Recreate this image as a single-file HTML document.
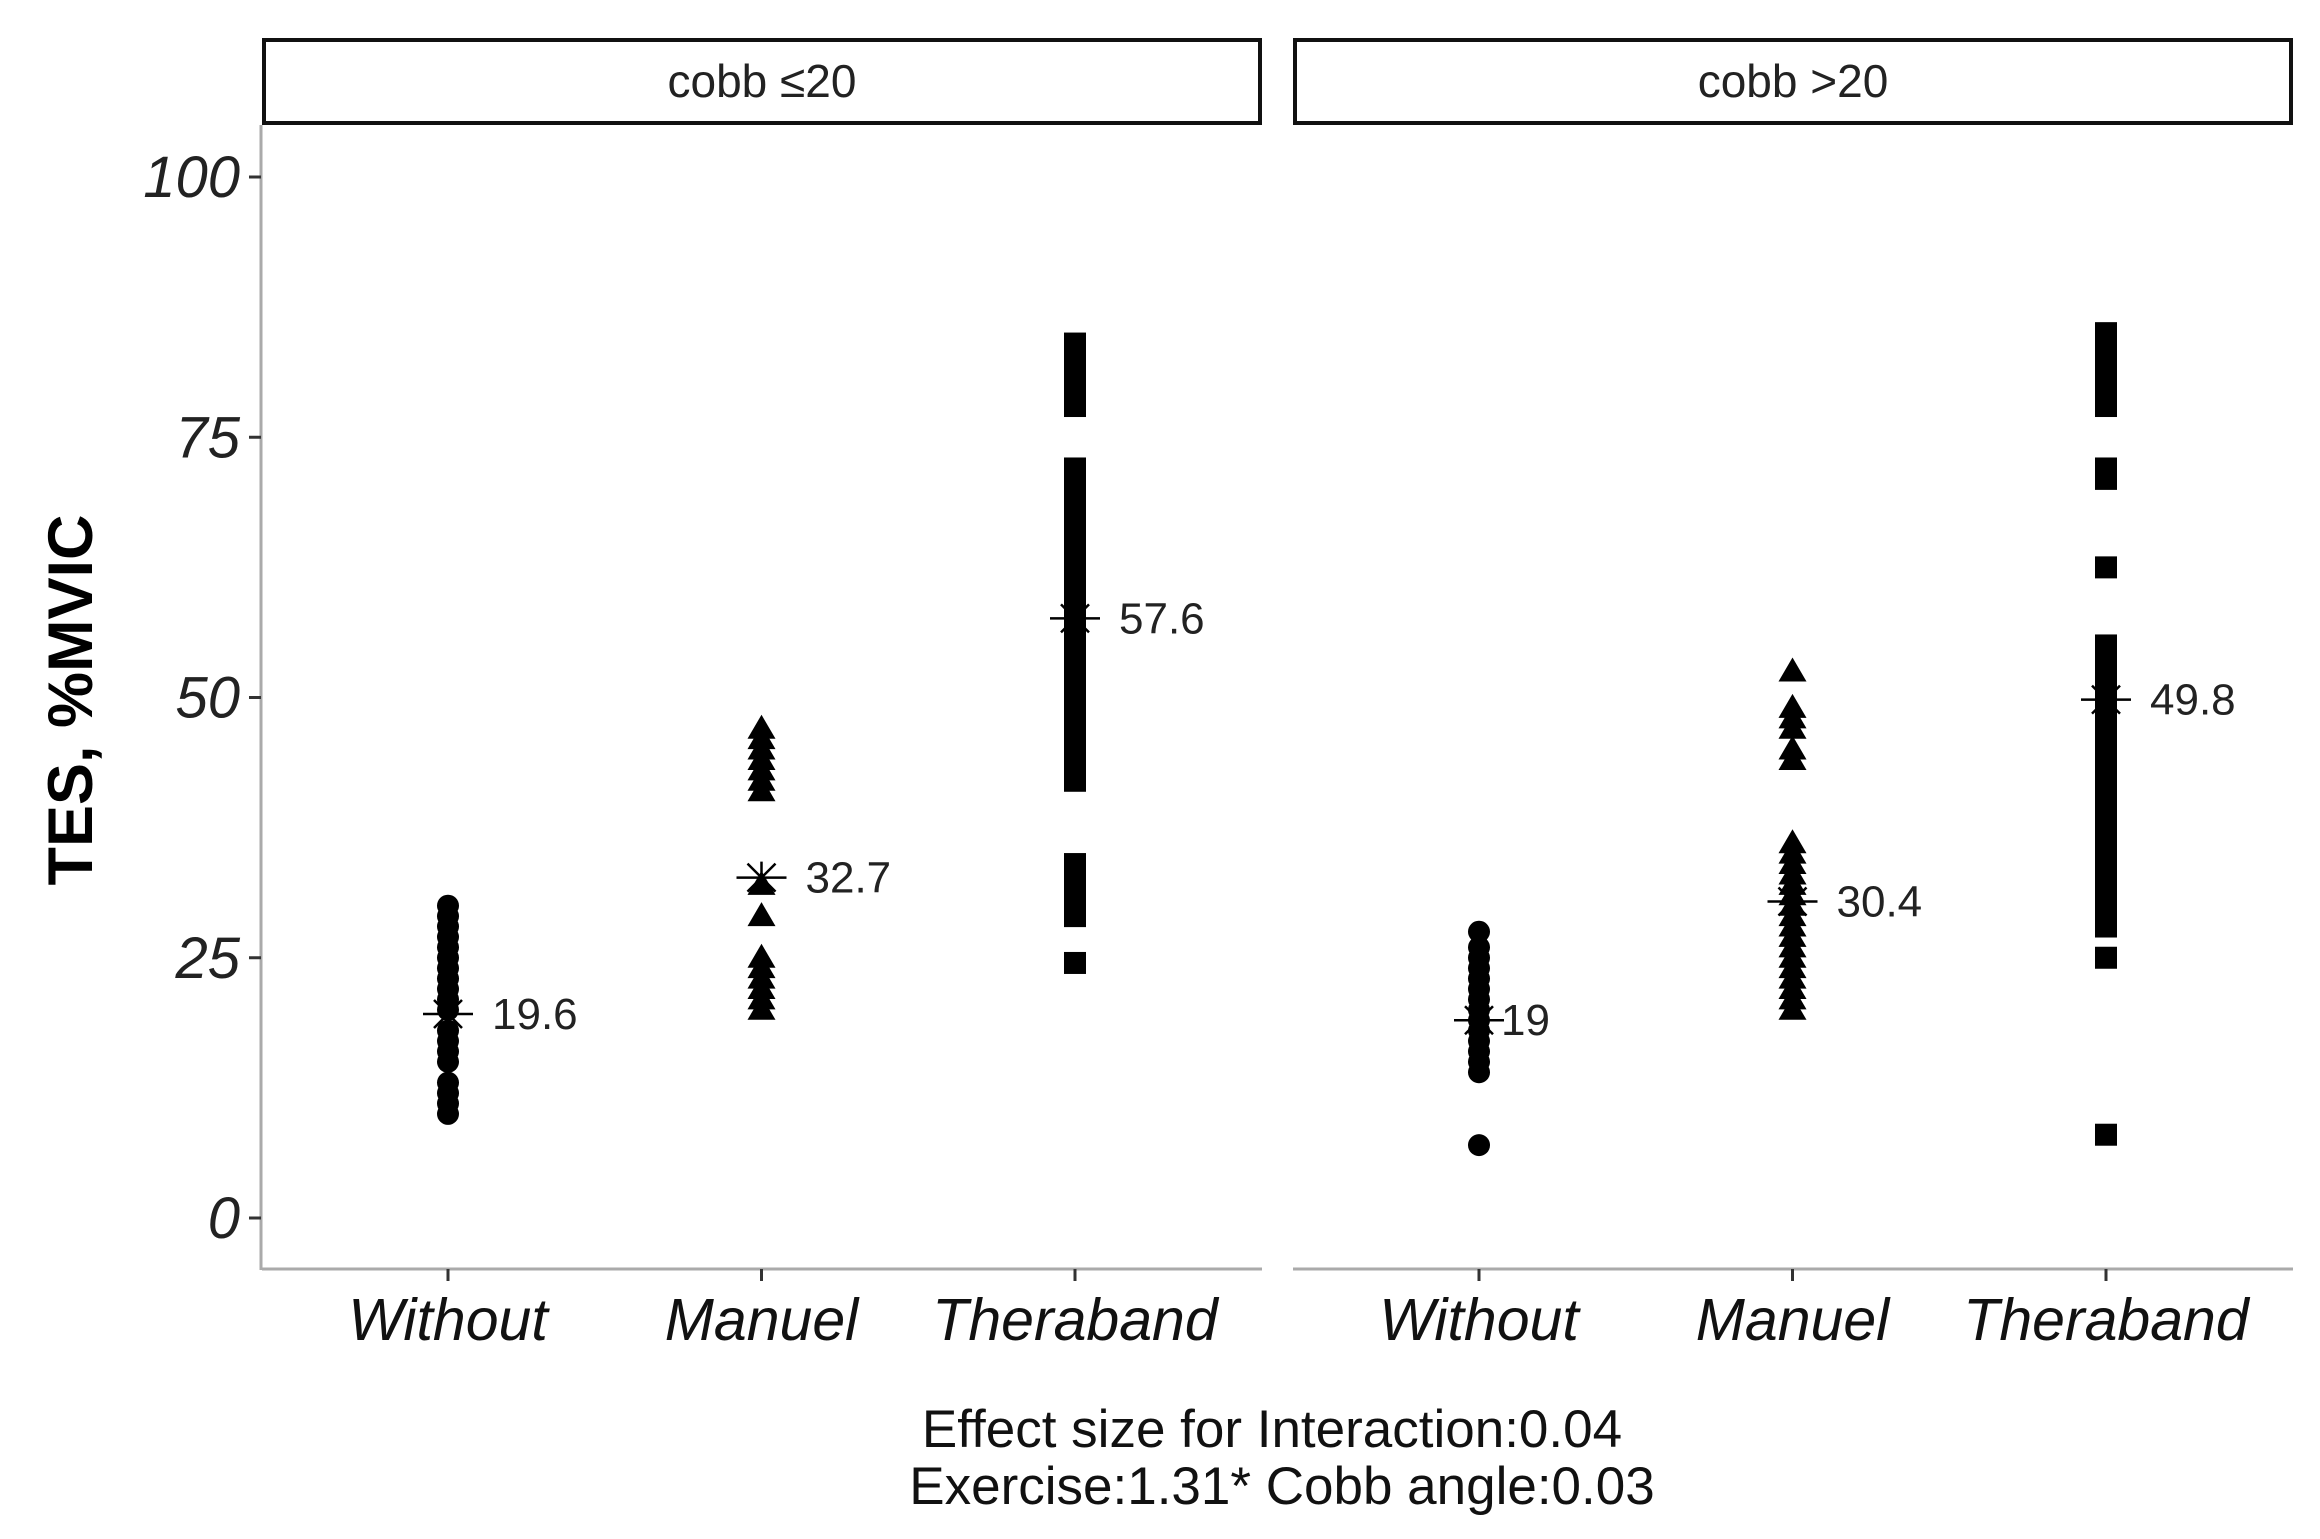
<!DOCTYPE html>
<html><head><meta charset="utf-8"><style>
html,body{margin:0;padding:0;background:#fff;}
svg{display:block;font-family:"Liberation Sans",sans-serif;}
</style></head><body>
<svg id="chart" width="2320" height="1539" viewBox="0 0 2320 1539">
<g id="g"></g>
</svg>
<script>
const panels = ["cobb ≤20", "cobb >20"];
const categories = ["Without", "Manuel", "Theraband"];
const yTicks = [0, 25, 50, 75, 100];
const p1Without = [10,11,12,13,15,16,17,18,20,21,22,23,24,25,26,27,28,29,30];
const p1Manuel = [20,21,22,23,24,25,29,32,41,42,43,44,45,46,47];
const p1Thera = [24.5,29,30,32,34,42,43,44,45,46,47,48,49,50,51,52,53,54,55,56,58,60,61,63,64,65,66,67,68,69,70,71,72,78,79,80,81,82,84];
const p2Without = [7,14,15,16,17,18,19,20,21,22,23,24,25,26,27.5];
const p2Manuel = [20,21,22,23,24,25,26,27,28,29,30,31,32,33,34,35,36,44,45,47,48,49,52.5];
const p2Thera = [8,25,28,30,32,33,34,35,36,37,38,39,40,41,42,43,44,45,46,47,48,49,51,52,53,55,62.5,71,72,78,79,80,81,82,83,85];
const means = [[19.6,32.7,57.6],[19,30.4,49.8]];
const meanLabels = [["19.6","32.7","57.6"],["19","30.4","49.8"]];
const series = [[p1Without,p1Manuel,p1Thera],[p2Without,p2Manuel,p2Thera]];

const NS="http://www.w3.org/2000/svg";
const g=document.getElementById('g');
function el(t,a,txt){const e=document.createElementNS(NS,t);for(const k in a)e.setAttribute(k,a[k]);if(txt!==undefined)e.textContent=txt;g.appendChild(e);return e;}
const panelX=[[262,1262],[1293,2293]];
const y0=1218,y100=177;
function y(v){return y0+(y100-y0)*v/100;}
function x(p,i){const [a,b]=panelX[p];const w=b-a;return a+w*(0.186+0.3135*i);}

panels.forEach((lab,p)=>{
  const [a,b]=panelX[p];
  let r=el('rect',{x:a+2,y:40,width:b-a-4,height:83,fill:'#fff',stroke:'#111','stroke-width':4});
  
  
  let t=el('text',{x:(a+b)/2,y:97,'text-anchor':'middle','font-size':46,fill:'#222'},lab);
  
  
  let ax=el('line',{x1:a,x2:b,y1:1269,y2:1269,stroke:'#aaa','stroke-width':3});
  
  
  categories.forEach((c,i)=>{
    const cx=x(p,i);
    let tk=el('line',{x1:cx,x2:cx,y1:1269,y2:1281,stroke:'#333','stroke-width':3});
    
    
    let tl=el('text',{x:cx,y:1340,'text-anchor':'middle','font-size':59,'font-style':'italic',fill:'#111'},c);
    
    
    const shape=i;
    series[p][i].forEach(v=>{
      const py=y(v);let m;
      if(shape===0) m=el('circle',{cx:cx,cy:py,r:11,fill:'#000'});
      else if(shape===1) m=el('polygon',{points:`${cx},${py-14} ${cx-14},${py+10} ${cx+14},${py+10}`,fill:'#000'});
      else m=el('rect',{x:cx-11,y:py-11,width:22,height:22,fill:'#000'});
      
      
    });
    const my=y(means[p][i]);
    const ms=el('path',{d:`M${cx-25},${my}H${cx+25}M${cx-14},${my-14}L${cx+14},${my+14}M${cx-14},${my+14}L${cx+14},${my-14}M${cx},${my-16}V${my+16}`,stroke:'#000','stroke-width':2.5,fill:'none'});
    
    
    const off=(meanLabels[p][i]==="19")?22:44;
    let ml=el('text',{x:cx+off,y:my+15,'font-size':44,fill:'#222'},meanLabels[p][i]);
    
    
  });
});
let ya=el('line',{x1:261,x2:261,y1:125,y2:1270,stroke:'#aaa','stroke-width':3});


yTicks.forEach(v=>{
  let t=el('line',{x1:249,x2:261,y1:y(v),y2:y(v),stroke:'#333','stroke-width':3});
  
  
  let l=el('text',{x:240,y:y(v)+20,'text-anchor':'end','font-size':58,'font-style':'italic',fill:'#222'},String(v));
  
  
});
let yt=el('text',{x:0,y:0,transform:'translate(92,700) rotate(-90)','text-anchor':'middle','font-size':63,'font-weight':'bold',fill:'#000'},'TES, %MVIC');


let f1=el('text',{x:1272,y:1447,'text-anchor':'middle','font-size':53,fill:'#111'},'Effect size for Interaction:0.04');


let f2=el('text',{x:1282,y:1504,'text-anchor':'middle','font-size':53,fill:'#111','xml:space':'preserve'},'Exercise:1.31*  Cobb angle:0.03');


</script>
</body></html>
